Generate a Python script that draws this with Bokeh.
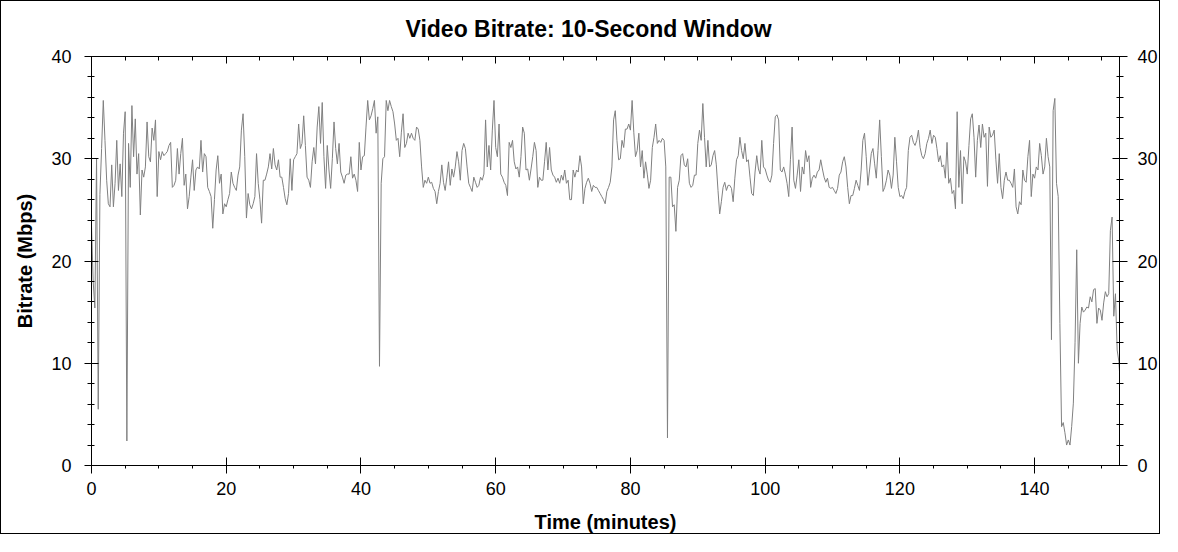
import numpy as np
from bokeh.plotting import figure
from bokeh.models import Range1d, LinearAxis, SingleIntervalTicker, Title, CustomJSTickFormatter
from bokeh.embed import file_html
from bokeh.resources import INLINE

# ---- data: video bitrate (Mbps), 10-second window, sampled every 0.25 minute ----
SAMPLE_STEP_MIN = 0.25

bitrate_0_31 = [
    23.5, 18.0, 15.4, 30.0, 5.5, 26.5, 31.0, 35.7, 31.8, 27.9,
    25.6, 25.3, 29.4, 25.3, 27.6, 31.8, 26.9, 29.5, 26.3, 32.5,
    34.6, 2.4, 31.5, 27.2, 35.2, 30.2, 33.9, 28.5, 30.5, 24.5,
    28.9, 28.2, 29.2, 33.6, 30.2, 29.7, 33.0, 31.8, 33.8, 26.3,
    30.7, 29.9, 30.7, 30.3, 30.5, 30.7, 31.3, 31.6, 27.2, 27.4,
    27.9, 31.0, 28.5, 30.5, 32.0, 27.4, 28.5, 25.1, 26.3, 28.2,
    29.9, 26.9, 28.9, 29.2, 29.0, 31.8, 28.7, 30.5, 30.2, 27.2,
    26.8, 26.3, 23.2, 26.0, 28.9, 30.3, 27.6, 28.5, 24.6, 25.6,
    25.3, 26.0, 26.6, 28.7, 27.6, 27.2, 26.9, 28.4, 29.2, 32.8,
    34.4, 30.2, 24.2, 26.6, 25.5, 25.1, 25.6, 26.3, 30.5, 27.6,
    26.0, 23.7, 27.9, 27.9, 28.5, 29.2, 30.5, 29.0, 31.0, 29.4,
    28.9, 29.9, 28.2, 28.2, 27.2, 26.1, 25.5, 26.6, 30.0, 26.9,
    29.9, 30.2, 30.5, 33.4,
]
bitrate_31_62 = [
    31.0, 31.5, 34.2, 31.3, 28.2, 27.9, 27.2, 29.7, 31.1, 29.5,
    33.1, 35.1, 31.5, 35.5, 30.2, 27.1, 31.3, 28.9, 27.1, 30.0,
    33.6, 31.0, 29.5, 31.5, 28.7, 28.2, 27.6, 28.4, 28.5, 28.5,
    30.2, 28.1, 28.5, 27.9, 26.8, 31.6, 28.9, 30.2, 30.3, 33.1,
    35.7, 33.8, 34.2, 34.9, 35.7, 32.5, 34.1, 9.7, 27.6, 30.0,
    30.2, 35.7, 34.7, 35.7, 35.1, 34.6, 33.4, 31.8, 32.0, 30.2,
    32.6, 34.4, 31.1, 31.5, 32.5, 32.0, 32.5, 32.0, 31.8, 33.1,
    32.9, 31.8, 29.2, 27.2, 27.9, 27.6, 28.2, 27.6, 27.7, 27.1,
    26.8, 25.6, 26.8, 27.6, 29.4, 27.7, 26.9, 28.2, 29.7, 27.4,
    29.0, 28.2, 29.2, 30.7, 29.7, 27.9, 30.8, 31.5, 31.0, 29.2,
    27.6, 27.2, 26.8, 28.2, 27.7, 27.2, 27.4, 28.2, 27.9, 28.5,
    33.8, 29.2, 31.3, 28.9, 32.8, 35.7, 31.1, 30.2, 33.4, 28.5,
    28.2, 27.7, 27.4, 26.4,
]
bitrate_62_92 = [
    31.6, 31.1, 31.8, 29.7, 29.0, 29.2, 28.2, 30.2, 33.1, 32.5,
    28.9, 29.0, 27.9, 29.0, 30.2, 31.6, 30.8, 27.2, 28.2, 27.9,
    27.9, 29.7, 31.6, 28.9, 31.1, 28.9, 28.4, 28.2, 27.7, 28.1,
    27.6, 28.4, 27.9, 28.9, 27.6, 27.9, 26.0, 26.0, 28.9, 28.2,
    28.9, 28.7, 30.3, 29.2, 25.6, 27.1, 27.7, 28.1, 27.6, 26.8,
    27.4, 27.2, 27.2, 26.9, 26.6, 26.3, 26.0, 25.6, 26.8, 27.2,
    27.7, 29.2, 33.8, 34.7, 31.8, 29.9, 30.0, 31.8, 31.1, 32.9,
    32.9, 33.4, 32.8, 35.7, 32.6, 30.2, 30.8, 32.5, 29.2, 30.8,
    28.1, 29.7, 28.5, 27.1, 27.9, 31.1, 32.1, 33.4, 31.5, 31.8,
    31.6, 32.0, 31.8, 29.2, 2.7, 28.2, 28.2, 25.3, 25.5, 22.9,
    27.2, 27.9, 30.3, 30.5, 29.4, 29.2, 30.0, 27.6, 27.2, 27.4,
    28.4, 28.4, 31.5, 32.8, 31.8, 35.4, 32.1, 29.2, 31.8, 29.2,
    29.4, 30.3,
]
bitrate_92_123 = [
    30.8, 29.4, 26.9, 24.6, 25.8, 27.2, 27.7, 26.9, 27.4, 27.4,
    27.1, 25.8, 28.1, 29.9, 30.3, 32.1, 30.8, 30.0, 31.5, 29.7,
    29.9, 28.2, 26.6, 26.4, 28.7, 30.3, 29.0, 28.5, 31.8, 29.2,
    29.0, 28.4, 27.9, 27.7, 28.4, 31.5, 34.1, 34.3, 33.8, 28.9,
    28.7, 29.2, 28.5, 27.6, 26.3, 29.9, 33.1, 27.9, 27.1, 28.4,
    29.9, 26.8, 29.2, 28.5, 30.8, 29.7, 30.3, 27.2, 28.1, 28.4,
    28.1, 28.7, 28.9, 29.9, 29.0, 28.2, 27.7, 28.1, 27.2, 27.1,
    27.2, 26.9, 26.6, 27.1, 28.4, 28.7, 29.7, 30.2, 29.2, 27.2,
    25.6, 26.4, 26.4, 27.1, 27.9, 27.4, 26.9, 28.9, 31.8, 32.5,
    30.2, 27.4, 28.9, 30.5, 31.0, 29.5, 28.1, 30.8, 33.8, 30.2,
    26.8, 27.2, 27.9, 28.9, 28.4, 27.1, 28.4, 32.1, 29.7, 27.2,
    26.3, 26.4, 26.1, 26.8, 27.2, 30.8, 32.1, 32.3, 31.6, 31.3,
    31.8, 32.8, 31.1,
]
bitrate_123_153 = [
    30.3, 30.0, 30.5, 31.5, 32.0, 32.8, 31.5, 32.3, 32.1, 31.0,
    29.7, 30.3, 29.2, 29.4, 28.1, 31.6, 27.6, 28.1, 26.6, 26.9,
    25.1, 34.6, 27.2, 30.8, 25.6, 30.2, 29.7, 28.5, 31.3, 33.9,
    34.4, 32.1, 28.2, 31.8, 33.3, 31.1, 33.4, 32.1, 32.5, 27.3,
    33.1, 32.1, 32.3, 32.8, 29.9, 27.6, 30.5, 27.2, 26.1, 27.9,
    28.7, 27.9, 27.9, 27.6, 27.2, 29.0, 25.3, 24.6, 25.8, 25.5,
    28.9, 27.9, 27.7, 30.2, 31.8, 26.3, 28.5, 28.1, 29.2, 28.9,
    31.5, 30.3, 28.5, 29.2, 32.0, 30.2, 29.2, 12.3, 34.7, 35.9,
    27.6, 26.3, 13.9, 3.8, 4.2, 3.2, 2.0, 2.5, 2.0, 3.8,
    6.1, 12.0, 21.1, 10.0, 13.9, 15.5, 15.0, 15.2, 15.5, 15.4,
    16.5, 16.0, 17.2, 17.3, 13.9, 15.4, 15.2, 14.2, 15.9, 17.0,
    16.5, 16.8, 23.0, 24.3, 14.6, 16.8, 11.3, 10.2, 7.7,
]

bitrate = bitrate_0_31 + bitrate_31_62 + bitrate_62_92 + bitrate_92_123 + bitrate_123_153
time_min = np.arange(len(bitrate)) * SAMPLE_STEP_MIN

X_MAX = 152.6
Y_MAX = 40
TITLE = "Video Bitrate: 10-Second Window"
X_LABEL = "Time (minutes)"
Y_LABEL = "Bitrate (Mbps)"

FONT = "Liberation Sans"
LINE_COLOR = "#808080"

p = figure(width=1160, height=534, output_backend="svg", toolbar_location=None,
           x_range=Range1d(0, X_MAX), y_range=Range1d(0, Y_MAX),
           x_axis_location=None, y_axis_location=None,
           min_border_left=90, min_border_right=42, min_border_top=55, min_border_bottom=69,
           background_fill_color="white", border_fill_color="white")
p.outline_line_color = None
p.xgrid.grid_line_color = None
p.ygrid.grid_line_color = None
p.styles = {"border": "1px solid black"}

p.title = Title(text=TITLE, align="left", offset=314, standoff=25, vertical_align="top",
                text_font=FONT, text_font_size="23px", text_font_style="bold",
                text_color="black")


def style_axis(ax, maj_in, maj_out, min_in, min_out):
    ax.axis_line_color = "black"
    ax.axis_line_width = 1
    ax.major_tick_line_color = "black"
    ax.minor_tick_line_color = "black"
    ax.major_tick_in = maj_in
    ax.major_tick_out = maj_out
    ax.minor_tick_in = min_in
    ax.minor_tick_out = min_out
    ax.major_label_text_font = FONT
    ax.major_label_text_font_size = "18px"
    ax.major_label_text_color = "black"
    ax.axis_label_text_font = FONT
    ax.axis_label_text_font_size = "20px"
    ax.axis_label_text_font_style = "bold"
    ax.axis_label_text_color = "black"


bottom = LinearAxis(ticker=SingleIntervalTicker(interval=20, num_minor_ticks=4), axis_label=X_LABEL)
style_axis(bottom, 8, 8, 0, 3)
bottom.major_label_standoff = 8
bottom.axis_label_standoff = 13
p.add_layout(bottom, "below")

top = LinearAxis(ticker=SingleIntervalTicker(interval=20, num_minor_ticks=4),
                 formatter=CustomJSTickFormatter(code="return ''"))
style_axis(top, 7, 0, 4, 0)
p.add_layout(top, "above")

left = LinearAxis(ticker=SingleIntervalTicker(interval=10, num_minor_ticks=5), axis_label=Y_LABEL)
style_axis(left, 7, 7, 3, 4)
left.major_label_standoff = 13
left.axis_label_standoff = 12
p.add_layout(left, "left")

right = LinearAxis(ticker=SingleIntervalTicker(interval=10, num_minor_ticks=5))
style_axis(right, 7, 8, 3, 4)
right.major_label_standoff = 10
p.add_layout(right, "right")

p.line(time_min, bitrate, line_color=LINE_COLOR, line_width=1)

open("out.html", "w").write(file_html(p, INLINE))
